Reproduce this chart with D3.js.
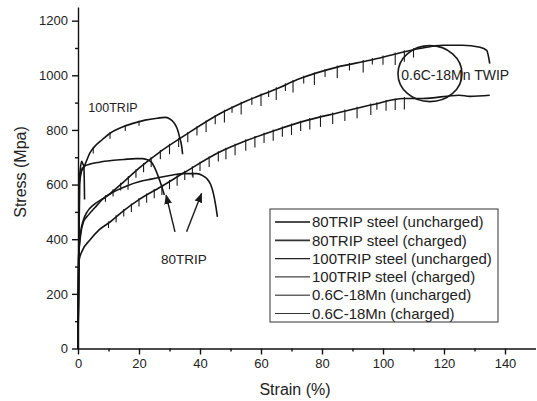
<!DOCTYPE html>
<html>
<head>
<meta charset="utf-8">
<script src="https://cdn.jsdelivr.net/npm/d3@7"></script>
<style>
  body { margin: 0; background: #fff; }
  svg { font-family: "Liberation Sans", Arial, sans-serif; }
  .axis path, .axis line { stroke: #111; stroke-width: 1.4; }
  .axis text { font-size: 13px; fill: #222; }
</style>
</head>
<body>
<script>
// curves: [strain %, stress MPa]
var trip100Uncharged = [[0,0],[0.5,600],[1.2,650],[1.75,660],[4,718],[6,746],[8,765],[10.5,788],[14,808],[18,824],[22,836],[26,843],[28.5,846],[30,841],[31.5,826],[32.5,805],[33.4,770],[34,740],[34.3,711]];
var trip100Charged = [[0,0],[0.4,610],[0.7,652],[1.2,685],[1.6,676],[1.9,668],[2.05,620],[2.15,545]];
var trip80Charged = [[0,0],[0.5,610],[1.2,655],[2,666],[4,675],[7,682],[11,688],[15,692],[19,695],[21,695],[22.5,692],[24,683],[25.2,660],[26.3,630],[27.4,595],[28.3,562]];
var trip80Uncharged = [[0,0],[0.2,330],[0.8,420],[1.75,470],[3,500],[5,525],[8.3,549],[12,575],[16,595],[20,610],[24,620],[27,627],[31,635],[34.5,640],[38.9,640],[41,632],[42.2,622],[43.5,600],[44.4,567],[45.2,520],[45.7,482]];
var twipUncharged = [[0,0],[0.2,330],[0.8,410],[1.75,462],[3.5,490],[5.5,515],[8.3,549],[10.5,567],[15,610],[20,660],[26.9,720],[35,780],[46.6,860],[55,905],[65,950],[72.8,988],[85,1030],[95.7,1055],[104.5,1079],[112,1098],[119.7,1110],[126,1110],[131.8,1103],[134,1091],[135,1043]];
var twipCharged = [[0,0],[0.3,320],[1.5,360],[3.9,397],[7,435],[10.5,463],[15,505],[20,545],[26.9,590],[35,645],[46.6,720],[55,760],[65,800],[75,835],[85,862],[96.8,893],[106.7,915],[113,915],[125,927],[128.5,923],[135,927]];

// serration drops: [strain %, drop MPa]
var twipUnchargedSerr = [[9,18],[11.5,20],[14,22],[16.5,25],[19,25],[21.5,28],[24,30],[27,28],[30,32],[33,28],[36,32],[39,28],[42,36],[45,28],[48,40],[50.5,18],[53.5,40],[57,22],[60,40],[62.5,18],[65,40],[68,22],[70.5,40],[74,22],[77.5,40],[81,22],[85,40],[89,22],[93.5,40],[96.5,18],[100,28],[104,40],[107,36],[110,28]];
var twipChargedSerr = [[10,18],[12.5,20],[15,22],[17.5,25],[20,25],[22.5,28],[25,28],[27.5,32],[30,28],[32.5,32],[35,28],[37.5,32],[40,28],[43,32],[46,32],[48.5,36],[51.5,36],[55,36],[58,36],[61,32],[64,36],[67,32],[70,36],[73,32],[76,36],[79.5,36],[83.5,36],[87.5,36],[91.5,36],[96,36],[98,22],[101,32],[104,36],[107,40]];
var trip100Serr = [[5,18],[10.5,20],[15.5,18],[20,15]];
var trip80Serr = [[16.4,15],[37.7,15]];

var yTicks = [0, 200, 400, 600, 800, 1000, 1200];
var yMinor = [100, 300, 500, 700, 900, 1100];
var xTicks = [0, 20, 40, 60, 80, 100, 120, 140];
var xMinor = [10, 30, 50, 70, 90, 110, 130];

var legendLabels = ["80TRIP steel (uncharged)", "80TRIP steel (charged)", "100TRIP steel (uncharged)", "100TRIP steel (charged)", "0.6C-18Mn (uncharged)", "0.6C-18Mn (charged)"];
var legendColors = ["#111", "#333", "#222", "#444", "#666", "#333"];
var legendWidths = [1.4, 1.8, 1.2, 1.2, 1.6, 1.2];

var width = 537, height = 401;

var svg = d3.select("body").append("svg")
  .attr("width", width)
  .attr("height", height);

var x = d3.scaleLinear().domain([0, 150]).range([78, 535.5]);
var y = d3.scaleLinear().domain([0, 1250]).range([348.5, 7]);

// curves
var line = d3.line()
  .x(function(d) { return x(d[0]); })
  .y(function(d) { return y(d[1]); })
  .curve(d3.curveMonotoneX);

var curves = [trip100Uncharged, trip100Charged, trip80Charged, trip80Uncharged, twipUncharged, twipCharged];
svg.selectAll(".curve")
  .data(curves)
  .enter()
  .append("path")
  .attr("class", "curve")
  .attr("d", line)
  .attr("fill", "none")
  .attr("stroke", "#151515")
  .attr("stroke-width", 1.6);

// serration ticks sit on the curve they belong to
function drawSerrations(curve, serr, up) {
  var onCurve = d3.scaleLinear()
    .domain(curve.map(function(d) { return d[0]; }))
    .range(curve.map(function(d) { return d[1]; }));
  svg.append("g").selectAll("line")
    .data(serr)
    .enter()
    .append("line")
    .attr("x1", function(d) { return x(d[0]); })
    .attr("x2", function(d) { return x(d[0]); })
    .attr("y1", function(d) { return y(onCurve(d[0]) + up); })
    .attr("y2", function(d) { return y(onCurve(d[0]) - d[1]); })
    .attr("stroke", "#1a1a1a")
    .attr("stroke-width", 1.1);
}
drawSerrations(twipUncharged, twipUnchargedSerr, 6);
drawSerrations(twipCharged, twipChargedSerr, 6);
drawSerrations(trip100Uncharged, trip100Serr, 4);
drawSerrations(trip80Uncharged, trip80Serr, 4);

// axes
svg.append("g")
  .attr("class", "axis")
  .attr("transform", "translate(" + x(0) + ",0)")
  .call(d3.axisLeft(y).tickValues(yTicks).tickSize(6).tickSizeOuter(0).tickPadding(4).tickFormat(d3.format("d")));
svg.append("g")
  .attr("class", "axis")
  .attr("transform", "translate(" + x(0) + ",0)")
  .call(d3.axisLeft(y).tickValues(yMinor).tickSize(3).tickSizeOuter(0).tickFormat(""))
  .select(".domain").remove();

svg.append("g")
  .attr("class", "axis")
  .attr("transform", "translate(0," + y(0) + ")")
  .call(d3.axisBottom(x).tickValues(xTicks).tickSize(6).tickSizeOuter(0).tickPadding(4).tickFormat(d3.format("d")));
svg.append("g")
  .attr("class", "axis")
  .attr("transform", "translate(0," + y(0) + ")")
  .call(d3.axisBottom(x).tickValues(xMinor).tickSize(3).tickSizeOuter(0).tickFormat(""))
  .select(".domain").remove();

// axis titles
svg.append("text")
  .attr("transform", "translate(26,172) rotate(-90)")
  .attr("text-anchor", "middle")
  .attr("font-size", 16)
  .attr("fill", "#222")
  .text("Stress (Mpa)");
svg.append("text")
  .attr("x", 295)
  .attr("y", 395)
  .attr("text-anchor", "middle")
  .attr("font-size", 16)
  .attr("fill", "#222")
  .text("Strain (%)");

// annotations
svg.append("text")
  .attr("x", x(3.4)).attr("y", y(865))
  .attr("font-size", 12.5).attr("fill", "#222")
  .text("100TRIP");
svg.append("text")
  .attr("x", x(27.2)).attr("y", y(311))
  .attr("font-size", 13.5).attr("fill", "#222")
  .text("80TRIP");

svg.append("defs").append("marker")
  .attr("id", "head")
  .attr("viewBox", "0 0 10 10")
  .attr("refX", 9).attr("refY", 5)
  .attr("markerWidth", 7).attr("markerHeight", 7)
  .attr("orient", "auto")
  .append("path")
  .attr("d", "M0,1L10,5L0,9Z")
  .attr("fill", "#1a1a1a");

var arrows = [[[31.8, 427], [28.9, 561]], [[35.6, 427], [40.5, 567]]];
svg.selectAll(".arrow")
  .data(arrows)
  .enter()
  .append("line")
  .attr("class", "arrow")
  .attr("x1", function(d) { return x(d[0][0]); })
  .attr("y1", function(d) { return y(d[0][1]); })
  .attr("x2", function(d) { return x(d[1][0]); })
  .attr("y2", function(d) { return y(d[1][1]); })
  .attr("stroke", "#1a1a1a")
  .attr("stroke-width", 1.4)
  .attr("marker-end", "url(#head)");

svg.append("ellipse")
  .attr("cx", x(115.4)).attr("cy", y(1006))
  .attr("rx", 32).attr("ry", 28)
  .attr("fill", "none")
  .attr("stroke", "#1a1a1a")
  .attr("stroke-width", 1.6);
svg.append("text")
  .attr("x", x(106)).attr("y", y(982))
  .attr("font-size", 14).attr("fill", "#222")
  .text("0.6C-18Mn TWIP");

// legend
var legend = svg.append("g").attr("transform", "translate(270,209)");
legend.append("rect")
  .attr("width", 228).attr("height", 113)
  .attr("fill", "#fff")
  .attr("stroke", "#333")
  .attr("stroke-width", 1);
var rows = legend.selectAll(".row")
  .data(legendLabels)
  .enter()
  .append("g")
  .attr("transform", function(d, i) { return "translate(0," + (13 + i * 18.3) + ")"; });
rows.append("line")
  .attr("x1", 5).attr("x2", 40)
  .attr("stroke", function(d, i) { return legendColors[i]; })
  .attr("stroke-width", function(d, i) { return legendWidths[i]; });
rows.append("text")
  .attr("x", 42)
  .attr("dy", "0.35em")
  .attr("font-size", 15)
  .attr("fill", "#222")
  .text(function(d) { return d; });
</script>
</body>
</html>
